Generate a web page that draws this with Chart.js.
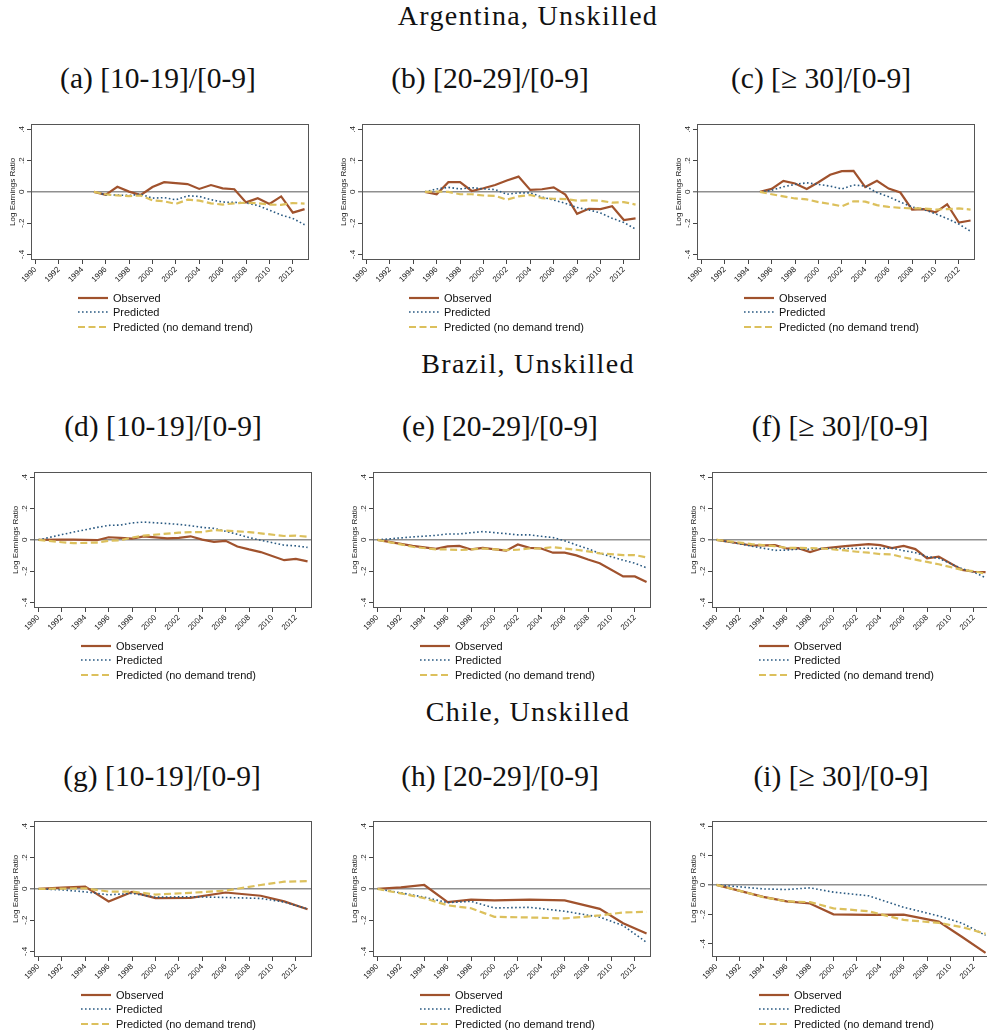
<!DOCTYPE html>
<html><head><meta charset="utf-8">
<script src="https://cdn.jsdelivr.net/npm/chart.js@4.4.0/dist/chart.umd.min.js"></script>
<style>
html,body{margin:0;padding:0;background:#fff;overflow:hidden;width:987px;height:1034px;position:relative;}
.ttl{position:absolute;font-family:"Liberation Serif","Times New Roman",serif;color:#111;white-space:nowrap;line-height:1;transform:translateX(-50%);}
.lg{position:absolute;font-family:"Liberation Sans",Arial,sans-serif;font-size:11px;color:#111;white-space:nowrap;}
.lg div{display:flex;align-items:center;height:14.3px;}
.lg svg{margin-right:5px;display:block;}
canvas{position:absolute;}
</style></head><body>
<script>
// ---------- tick labels / names ----------
const xTickYears = [1990,1992,1994,1996,1998,2000,2002,2004,2006,2008,2010,2012];
const yTickValues = [0.4,0.2,0,-0.2,-0.4];
const yTickLabels = ['.4','.2','0','-.2','-.4'];
const yAxisTitle = 'Log Earnings Ratio';
const seriesNames = ['Observed','Predicted','Predicted (no demand trend)'];
const countryTitles = ['Argentina, Unskilled','Brazil, Unskilled','Chile, Unskilled'];
const panelTitles = ['(a) [10-19]/[0-9]','(b) [20-29]/[0-9]','(c) [\u2265 30]/[0-9]',
                     '(d) [10-19]/[0-9]','(e) [20-29]/[0-9]','(f) [\u2265 30]/[0-9]',
                     '(g) [10-19]/[0-9]','(h) [20-29]/[0-9]','(i) [\u2265 30]/[0-9]'];

// ---------- years ----------
const yearsArgentina = [1995,1996,1997,1998,1999,2000,2001,2002,2003,2004,2005,2006,2007,2008,2009,2010,2011,2012,2013];
const yearsBrazil = [1990,1992,1993,1995,1996,1997,1998,1999,2001,2002,2003,2004,2005,2006,2007,2008,2009,2011,2012,2013];
const yearsChile = [1990,1992,1994,1996,1998,2000,2003,2006,2009,2011,2013];

// ---------- Argentina ----------
const argA_observed = [0,-0.019,0.033,0.002,-0.02,0.031,0.062,0.056,0.05,0.019,0.044,0.023,0.017,-0.067,-0.04,-0.077,-0.029,-0.133,-0.11];
const argA_predicted = [0,-0.019,-0.02,-0.023,-0.015,-0.04,-0.037,-0.05,-0.025,-0.029,-0.05,-0.065,-0.067,-0.07,-0.087,-0.117,-0.148,-0.17,-0.21];
const argA_noDemand = [0,-0.015,-0.023,-0.027,-0.023,-0.054,-0.06,-0.077,-0.05,-0.056,-0.073,-0.081,-0.073,-0.069,-0.073,-0.081,-0.083,-0.071,-0.075];

const argB_observed = [0,-0.015,0.062,0.062,0.006,0.023,0.044,0.073,0.098,0.0125,0.017,0.029,-0.017,-0.14,-0.108,-0.11,-0.092,-0.18,-0.17];
const argB_predicted = [0,0.019,0.029,0.019,0.027,0.019,0.015,-0.015,-0.006,-0.006,-0.033,-0.052,-0.073,-0.1,-0.115,-0.135,-0.169,-0.196,-0.238];
const argB_noDemand = [0,0.002,0,-0.015,-0.015,-0.023,-0.025,-0.05,-0.029,-0.019,-0.04,-0.044,-0.046,-0.056,-0.054,-0.056,-0.069,-0.065,-0.081];

const argC_observed = [0,0.019,0.071,0.054,0.019,0.062,0.11,0.133,0.135,0.031,0.071,0.021,-0.004,-0.113,-0.11,-0.131,-0.079,-0.196,-0.183];
const argC_predicted = [0,0.01,0.033,0.048,0.058,0.048,0.037,0.019,0.044,0.037,-0.004,-0.031,-0.065,-0.096,-0.113,-0.14,-0.171,-0.206,-0.252];
const argC_noDemand = [0,-0.015,-0.029,-0.042,-0.048,-0.065,-0.077,-0.092,-0.06,-0.062,-0.085,-0.096,-0.102,-0.106,-0.106,-0.113,-0.11,-0.106,-0.113];

// ---------- Brazil ----------
const braD_observed = [0,0.002,0.002,-0.002,0.017,0.013,0.008,0.023,0.01,0.013,0.023,0.002,-0.013,-0.006,-0.042,-0.061,-0.078,-0.13,-0.122,-0.137];
const braD_predicted = [0,0.034,0.05,0.08,0.093,0.095,0.109,0.114,0.105,0.099,0.091,0.08,0.074,0.055,0.036,0.015,-0.002,-0.034,-0.038,-0.048];
const braD_noDemand = [0,-0.015,-0.021,-0.017,-0.006,-0.002,0.015,0.027,0.04,0.046,0.05,0.05,0.063,0.059,0.055,0.05,0.042,0.025,0.027,0.021];

const braE_observed = [0,-0.025,-0.038,-0.057,-0.042,-0.038,-0.061,-0.051,-0.069,-0.029,-0.051,-0.055,-0.082,-0.082,-0.099,-0.126,-0.149,-0.234,-0.234,-0.27];
const braE_predicted = [0,0.013,0.019,0.029,0.038,0.038,0.046,0.053,0.04,0.032,0.032,0.023,0.015,-0.006,-0.032,-0.057,-0.086,-0.13,-0.149,-0.179];
const braE_noDemand = [0,-0.029,-0.044,-0.061,-0.061,-0.065,-0.061,-0.055,-0.065,-0.063,-0.055,-0.055,-0.046,-0.055,-0.063,-0.074,-0.086,-0.097,-0.097,-0.112];

const braF_observed = [0,-0.023,-0.036,-0.034,-0.055,-0.053,-0.078,-0.055,-0.04,-0.034,-0.027,-0.034,-0.053,-0.038,-0.059,-0.118,-0.107,-0.192,-0.204,-0.206];
const braF_predicted = [0,-0.025,-0.04,-0.067,-0.065,-0.059,-0.061,-0.055,-0.055,-0.055,-0.053,-0.055,-0.053,-0.069,-0.082,-0.107,-0.118,-0.185,-0.206,-0.242];
const braF_noDemand = [0,-0.017,-0.027,-0.04,-0.051,-0.051,-0.053,-0.055,-0.067,-0.076,-0.082,-0.091,-0.093,-0.112,-0.126,-0.141,-0.156,-0.192,-0.2,-0.217];

// ---------- Chile ----------
const chlG_observed = [0,0.008,0.015,-0.08,-0.019,-0.059,-0.057,-0.023,-0.044,-0.08,-0.13];
const chlG_predicted = [0,-0.006,-0.019,-0.038,-0.029,-0.053,-0.05,-0.055,-0.061,-0.084,-0.128];
const chlG_noDemand = [0,0.002,0.004,-0.017,-0.017,-0.036,-0.025,-0.011,0.025,0.046,0.05];

const chlH_observed = [0,0.01,0.025,-0.084,-0.069,-0.074,-0.069,-0.074,-0.128,-0.22,-0.286];
const chlH_predicted = [0,-0.025,-0.053,-0.088,-0.08,-0.122,-0.118,-0.143,-0.181,-0.235,-0.342];
const chlH_noDemand = [0,-0.029,-0.059,-0.105,-0.124,-0.179,-0.183,-0.189,-0.17,-0.151,-0.147];

const chlI_observed = [0,-0.04,-0.081,-0.112,-0.126,-0.2,-0.204,-0.202,-0.249,-0.354,-0.462];
const chlI_predicted = [0,-0.013,-0.027,-0.031,-0.02,-0.049,-0.074,-0.152,-0.211,-0.26,-0.343];
const chlI_noDemand = [0,-0.04,-0.083,-0.112,-0.117,-0.159,-0.179,-0.238,-0.258,-0.287,-0.332];

// ---------- styles & layout ----------
const lineStyles = [
  {color:'#a0522d', width:2.2, dash:[]},
  {color:'#2a5a82', width:1.6, dash:[1.6,2.4]},
  {color:'#dcc05c', width:2.2, dash:[7,3.5]}
];
const PLOT_W = 278, PLOT_H = 137;
const X_MIN = 1989.62, X_MAX = 2013.38;
const panels = [
  {years:yearsArgentina, series:[argA_observed,argA_predicted,argA_noDemand], left:31,  top:123, yMin:-0.436, yMax:0.436},
  {years:yearsArgentina, series:[argB_observed,argB_predicted,argB_noDemand], left:362, top:123, yMin:-0.436, yMax:0.436},
  {years:yearsArgentina, series:[argC_observed,argC_predicted,argC_noDemand], left:697, top:123, yMin:-0.436, yMax:0.436},
  {years:yearsBrazil, series:[braD_observed,braD_predicted,braD_noDemand], left:34,  top:471, yMin:-0.436, yMax:0.436},
  {years:yearsBrazil, series:[braE_observed,braE_predicted,braE_noDemand], left:373, top:471, yMin:-0.436, yMax:0.436},
  {years:yearsBrazil, series:[braF_observed,braF_predicted,braF_noDemand], left:712, top:471, yMin:-0.436, yMax:0.436},
  {years:yearsChile, series:[chlG_observed,chlG_predicted,chlG_noDemand], left:34,  top:820, yMin:-0.436, yMax:0.436},
  {years:yearsChile, series:[chlH_observed,chlH_predicted,chlH_noDemand], left:373, top:820, yMin:-0.436, yMax:0.436},
  {years:yearsChile, series:[chlI_observed,chlI_predicted,chlI_noDemand], left:712, top:820, yMin:-0.49, yMax:0.436}
];
const countryTitlePos = [{x:528,y:17},{x:528,y:365},{x:528,y:713}];
const panelTitlePos = [{x:158,y:80},{x:490,y:80},{x:821,y:80},{x:163,y:428},{x:500,y:428},{x:840,y:428},{x:162,y:778},{x:500,y:778},{x:841,y:778}];

const TXT = '#222';
const tickFont = {family:'"Liberation Sans", Arial, sans-serif', size:8};

const framePlugin = {
  id:'frame',
  beforeDatasetsDraw(chart){
    const {ctx, chartArea:a} = chart;
    ctx.save();
    ctx.strokeStyle = '#555';
    ctx.lineWidth = 1;
    ctx.strokeRect(Math.round(a.left)+0.5, Math.round(a.top)+0.5, Math.round(a.right-a.left)-1, Math.round(a.bottom-a.top)-1);
    ctx.restore();
  }
};

function addText(cls, text, x, y, size, spacing){
  const d = document.createElement('div');
  d.className = cls;
  d.textContent = text;
  d.style.left = x + 'px';
  d.style.top = (y - size*0.55) + 'px';
  d.style.fontSize = size + 'px';
  if (spacing) d.style.letterSpacing = spacing + 'px';
  document.body.appendChild(d);
}

countryTitles.forEach((t,i)=> addText('ttl', t, countryTitlePos[i].x, countryTitlePos[i].y, 28, 1.3));
panelTitles.forEach((t,i)=> addText('ttl', t, panelTitlePos[i].x, panelTitlePos[i].y, 29.5, 0));

panels.forEach(p => {
  const cv = document.createElement('canvas');
  cv.width = PLOT_W + 35; cv.height = PLOT_H + 40;
  cv.style.left = (p.left - 30) + 'px';
  cv.style.top = (p.top - 5) + 'px';
  cv.style.width = cv.width + 'px'; cv.style.height = cv.height + 'px';
  document.body.appendChild(cv);

  const datasets = p.series.map((vals, k) => ({
    label: seriesNames[k],
    data: p.years.map((yr, j) => ({x: yr, y: vals[j]})),
    borderColor: lineStyles[k].color,
    borderWidth: lineStyles[k].width,
    borderDash: lineStyles[k].dash,
    pointRadius: 0,
    tension: 0,
    fill: false,
    order: 3 - k
  }));

  new Chart(cv, {
    type: 'line',
    data: {datasets},
    options: {
      responsive: false,
      animation: false,
      events: [],
      layout: {padding: {left:0, top:5, right:5, bottom:0}},
      plugins: {legend: {display:false}, tooltip: {enabled:false}},
      scales: {
        x: {
          type: 'linear', min: X_MIN, max: X_MAX, bounds: 'data',
          afterBuildTicks: s => { s.ticks = xTickYears.map(v => ({value: v})); },
          afterFit: s => { s.height = 35; },
          ticks: {autoSkip:false, minRotation:45, maxRotation:45, padding:1, font:tickFont, color:TXT, callback: v => String(v)},
          grid: {drawOnChartArea:false, drawTicks:true, tickLength:4, color:'#444', tickColor:'#444', tickWidth:1},
          border: {display:false}
        },
        y: {
          type: 'linear', min: p.yMin, max: p.yMax, bounds: 'data',
          afterBuildTicks: s => { s.ticks = yTickValues.map(v => ({value: v})); },
          afterFit: s => { s.width = 30; },
          ticks: {autoSkip:false, minRotation:90, maxRotation:90, crossAlign:'center', padding:1, font:tickFont, color:TXT,
                  callback: v => yTickLabels[yTickValues.indexOf(v)]},
          grid: {drawOnChartArea:true, drawTicks:true, tickLength:4,
                 color: c => (c.tick && c.tick.value === 0) ? '#8f8f8f' : 'rgba(0,0,0,0)',
                 lineWidth: c => (c.tick && c.tick.value === 0) ? 1.6 : 1,
                 tickColor:'#444', tickWidth:1},
          border: {display:false},
          title: {display:true, text:yAxisTitle, font:tickFont, color:TXT, padding:{top:7, bottom:0}}
        }
      }
    },
    plugins: [framePlugin]
  });

  // legend
  const lg = document.createElement('div');
  lg.className = 'lg';
  lg.style.left = (p.left + 47) + 'px';
  lg.style.top = (p.top + PLOT_H + 38 - 7) + 'px';
  seriesNames.forEach((n, k) => {
    const row = document.createElement('div');
    const st = lineStyles[k];
    row.innerHTML = '<svg width="30" height="6"><line x1="0" y1="3" x2="30" y2="3" stroke="' + st.color +
      '" stroke-width="' + st.width + '"' + (st.dash.length ? ' stroke-dasharray="' + st.dash.join(' ') + '"' : '') + '/></svg>';
    const sp = document.createElement('span');
    sp.textContent = n;
    row.appendChild(sp);
    lg.appendChild(row);
  });
  document.body.appendChild(lg);
});
</script>
</body></html>
